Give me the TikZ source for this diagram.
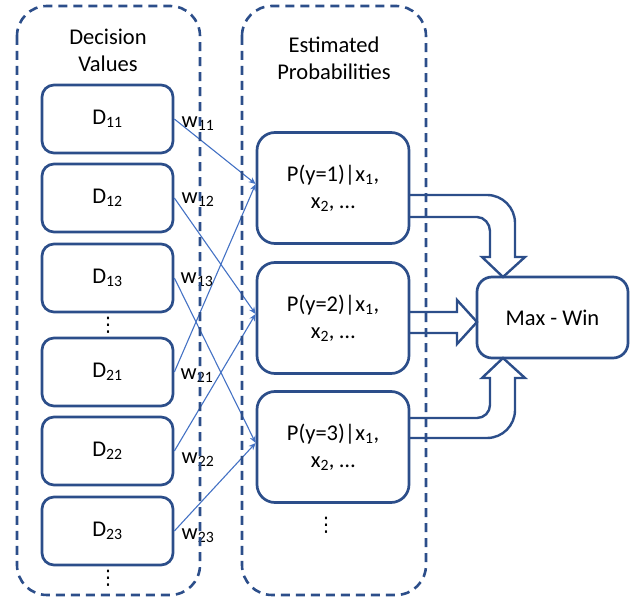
\documentclass[tikz,border=0pt]{standalone}
\usepackage{fontspec}
\setmainfont{Carlito}
\newfontfamily\symfont{DejaVu Sans}
\usetikzlibrary{arrows.meta,calc}
\definecolor{dblue}{RGB}{44,78,138}
\definecolor{lblue}{RGB}{68,114,196}
\begin{document}
\begin{tikzpicture}[x=1pt,y=-1pt,
  font=\fontsize{22.5}{27}\selectfont,
  container/.style={draw=dblue,line width=2.6pt,dash pattern=on 9pt off 6pt,rounded corners=30pt},
  dbox/.style={draw=dblue,line width=2.7pt,rounded corners=12pt,minimum width=131pt,minimum height=68pt,inner sep=0pt},
  pbox/.style={draw=dblue,line width=2.7pt,rounded corners=18pt,minimum width=152pt,minimum height=111pt,align=center,inner sep=0pt},
  mbox/.style={draw=dblue,line width=2.7pt,rounded corners=15pt,minimum width=151pt,minimum height=81pt,inner sep=0pt},
  wline/.style={draw=lblue,line width=1.1pt,-{Stealth[length=7pt,width=6pt]}},
  wlabel/.style={inner sep=0pt},
  dotsnode/.style={inner sep=0pt,font=\symfont\fontsize{20}{20}\selectfont},
  barrow/.style={draw=dblue,line width=2.4pt,line join=miter}]
\useasboundingbox (0,0) rectangle (633,601);

% headings
\node[align=center] (t1) at (108,50) {Decision\\Values};
\node[align=center] (t2) at (334,58.5) {Estimated\\Probabilities};

% decision value boxes
\node[dbox] (d11) at (107.5,119) {D\textsubscript{11}};
\node[dbox] (d12) at (107.5,198) {D\textsubscript{12}};
\node[dbox] (d13) at (107.5,278) {D\textsubscript{13}};
\node[dotsnode] (dots1) at (108,325) {⋮};
\node[dbox] (d21) at (107.5,372) {D\textsubscript{21}};
\node[dbox] (d22) at (107.5,451) {D\textsubscript{22}};
\node[dbox] (d23) at (107.5,531) {D\textsubscript{23}};
\node[dotsnode] (dots2) at (108,578) {⋮};

% probability boxes
\node[pbox] (p1) at (333,188) {P(y=1)|x\textsubscript{1},\\x\textsubscript{2}, \dots};
\node[pbox] (p2) at (333,318) {P(y=2)|x\textsubscript{1},\\x\textsubscript{2}, \dots};
\node[pbox] (p3) at (333,447) {P(y=3)|x\textsubscript{1},\\x\textsubscript{2}, \dots};
\node[dotsnode] (dots3) at (326,525) {⋮};

% max-win
\node[mbox] (mw) at (552.5,317.5) {Max - Win};

% weighted connectors
\draw[wline] (d11.east) -- ([yshift=4pt]p1.west);
\draw[wline] (d12.east) -- ([yshift=4pt]p2.west);
\draw[wline] (d13.east) -- ([yshift=4pt]p3.west);
\draw[wline] (d21.east) -- ([yshift=4pt]p1.west);
\draw[wline] (d22.east) -- ([yshift=4pt]p2.west);
\draw[wline] (d23.east) -- ([yshift=4pt]p3.west);

% weight labels
\node[wlabel] (w11) at (198,124) {w\textsubscript{11}};
\node[wlabel] (w12) at (198,200) {w\textsubscript{12}};
\node[wlabel] (w13) at (197,280) {w\textsubscript{13}};
\node[wlabel] (w21) at (197,376) {w\textsubscript{21}};
\node[wlabel] (w22) at (198,460) {w\textsubscript{22}};
\node[wlabel] (w23) at (198,536) {w\textsubscript{23}};

% block arrows
\draw[barrow] ($(p1.east)+(-1,7)$) -- (487,195) .. controls (502.5,195) and (515,207.5) .. (515,223)
  -- (515,257) -- (525,257) -- (503,277) -- (482,257) -- (490,257) -- (490,231)
  .. controls (490,223.8) and (484.2,217) .. (477,217) -- ($(p1.east)+(-1,29)$);
\draw[barrow] ($(p2.east)+(-1,-6)$) -- (457,312) -- (457,300) -- (477,322) -- (457,344) -- (457,333)
  -- ($(p2.east)+(-1,15)$);
\draw[barrow] ($(p3.east)+(-1,-29)$) -- (477,418) .. controls (484.2,418) and (490,412.2) .. (490,405)
  -- (490,378) -- (482,378) -- (503,358) -- (525,378) -- (515,378) -- (515,410)
  .. controls (515,425.5) and (502.5,438) .. (487,438) -- ($(p3.east)+(-1,-9)$);

% dashed containers
\draw[container] (17,6) rectangle (200,595);
\draw[container] (242,6) rectangle (426,595);
\end{tikzpicture}
\end{document}
